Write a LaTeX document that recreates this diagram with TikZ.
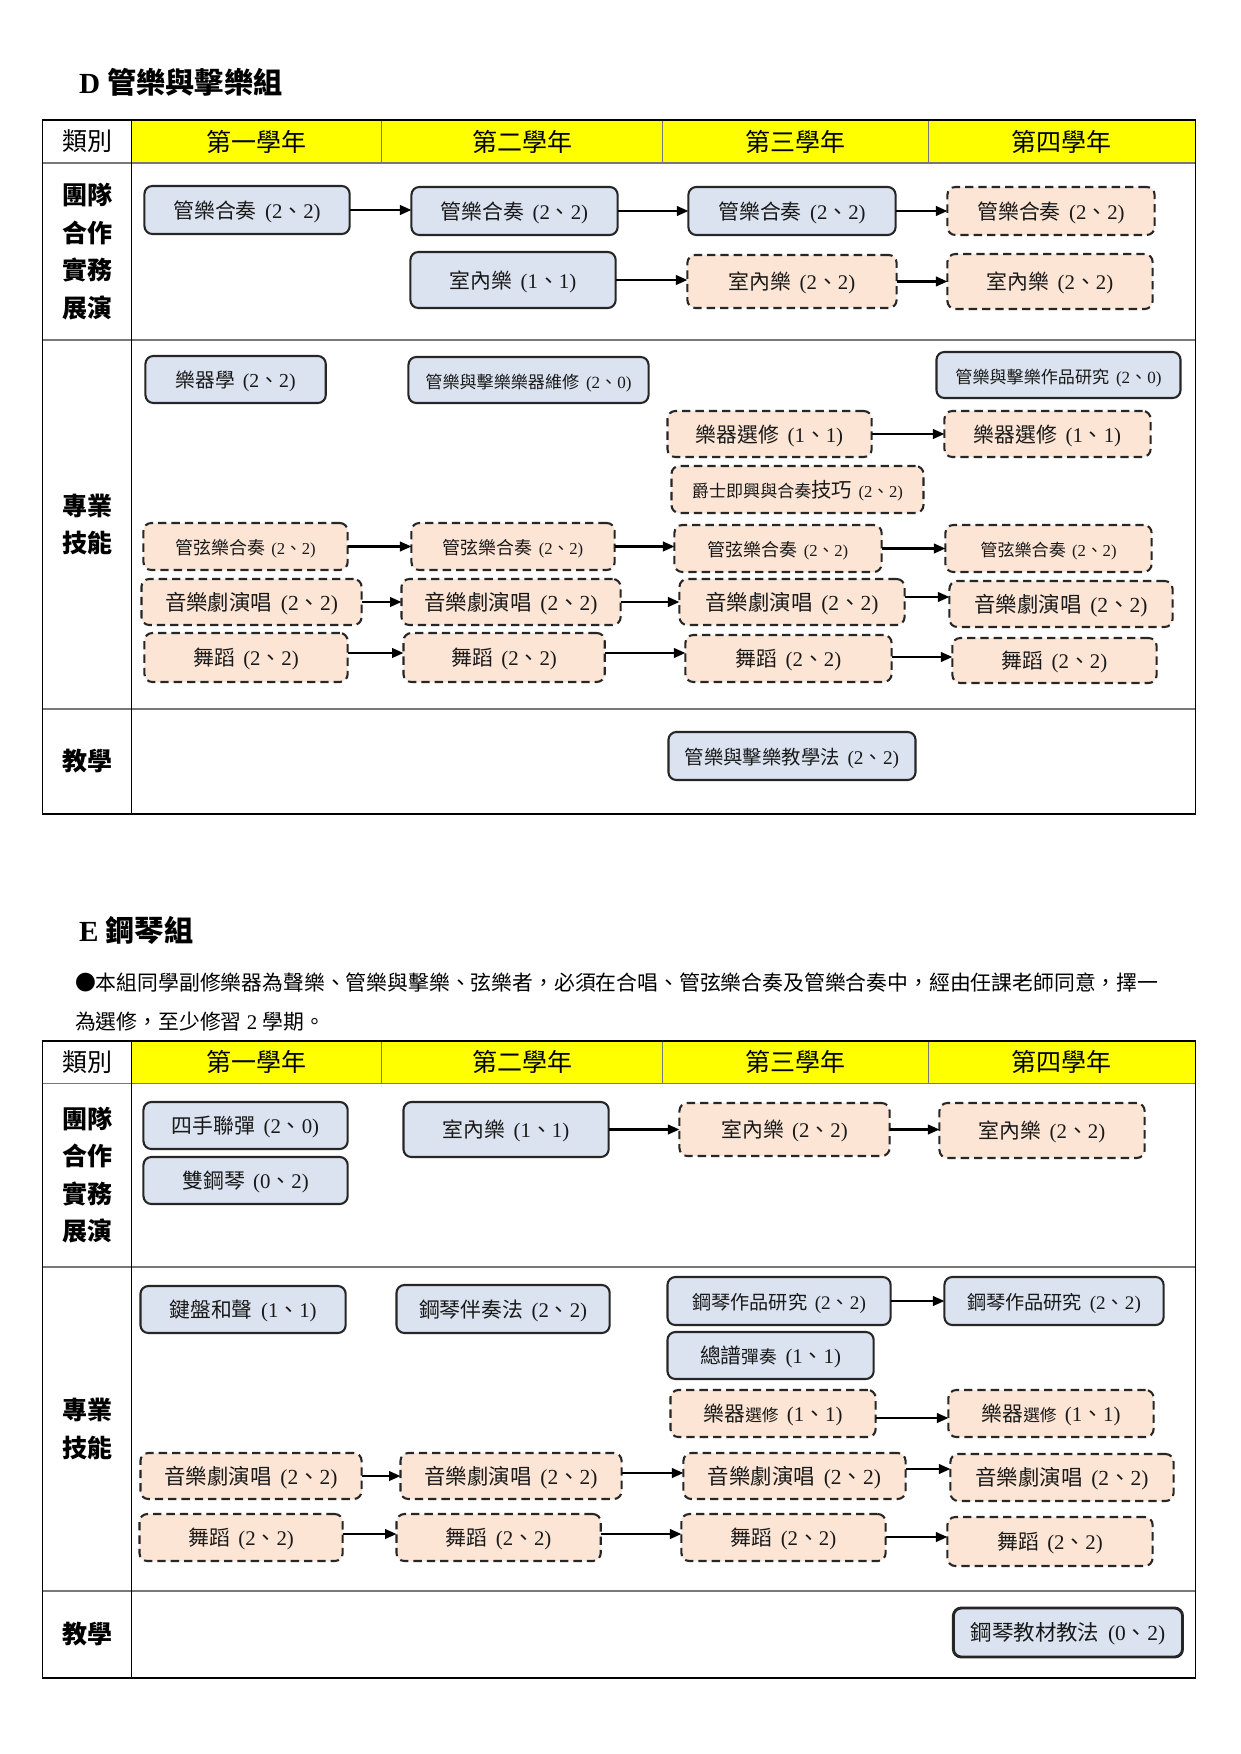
\documentclass[tikz,border=0pt]{standalone}
\usepackage{fontspec}
\setmainfont{Liberation Serif}
\newfontfamily\cjk{Noto Sans CJK TC}
\usetikzlibrary{arrows.meta}
\definecolor{bluefill}{RGB}{219,227,240}
\definecolor{peachfill}{RGB}{252,229,213}
\definecolor{hdryellow}{RGB}{255,255,0}
\definecolor{rulegray}{RGB}{120,120,120}
\newcommand\fs[1]{\fontsize{#1}{#1}\selectfont}
\newcommand\pp[2]{(#1{\cjk 、}#2)}
\newcommand\crs[3]{{\cjk #1}\hspace{0.4em}\pp{#2}{#3}}
\newcommand\bx[7]{\node[#2, minimum width={(#5-#3)*0.47824pt}, minimum height={(#6-#4)*0.48006pt}] (#1) at ({(#3+#5)/2},{(#4+#6)/2}) {#7};}
\tikzset{
  cbox/.style={rounded corners=3.8pt, line width=1pt, inner sep=0pt, outer sep=0pt, font=\fs{10}, text=black!90, text height=0.92em, text depth=0.12em},
  solidbox/.style={cbox, draw=black!85, fill=bluefill},
  dashbox/.style={cbox, draw=black!85, fill=peachfill, dash pattern=on 4pt off 2.4pt},
  arr/.style={-{Triangle[length=5.5pt,width=4.6pt]}, line width=1pt, black},
  hdrtext/.style={font=\cjk\fs{12}},
  rowlbl/.style={font=\cjk\bfseries\fontsize{12}{18}\selectfont, align=center},
  outerline/.style={draw=black, line width=0.6pt},
  innerline/.style={draw=rulegray, line width=0.8pt},
  titletext/.style={anchor=west, font=\bfseries\fs{14}},
  notetext/.style={anchor=west, font=\fs{10}, inner sep=0pt}
}
\begin{document}
\begin{tikzpicture}[x=0.47824pt, y=-0.48006pt]
\path[use as bounding box, fill=white] (0,0) rectangle (1244.72,1754);

% ================= D =================
\node[titletext] (dtitle) at (72,82) {D {\cjk 管樂與擊樂組}};

\fill[hdryellow] (132,120) rectangle (1200,163);
\draw[innerline] (43,163) -- (1200,163) (43,340) -- (1200,340) (43,709) -- (1200,709);
\draw[innerline] (383,120) -- (383,163) (665,120) -- (665,163) (932,120) -- (932,163);
\draw[outerline] (43,120) rectangle (1200,814);
\draw[outerline] (132,120) -- (132,814);

\node[hdrtext] (dhead0) at (87.5,141.5) {類別};
\node[hdrtext] (dhead1) at (257.5,141.5) {第一學年};
\node[hdrtext] (dhead2) at (524,141.5) {第二學年};
\node[hdrtext] (dhead3) at (798.5,141.5) {第三學年};
\node[hdrtext] (dhead4) at (1066,141.5) {第四學年};

\node[rowlbl] (drow1) at (87.5,251.5) {團隊\\合作\\實務\\展演};
\node[rowlbl] (drow2) at (87.5,524.5) {專業\\技能};
\node[rowlbl] (drow3) at (87.5,761.5) {教學};

\bx{da1}{solidbox}{145}{186}{351}{234}{\crs{管樂合奏}{2}{2}}
\bx{da2}{solidbox}{413}{187}{620}{235}{\crs{管樂合奏}{2}{2}}
\bx{da3}{solidbox}{691}{187}{899}{235}{\crs{管樂合奏}{2}{2}}
\bx{da4}{dashbox}{951}{187}{1159}{235}{\crs{管樂合奏}{2}{2}}
\bx{db2}{solidbox}{412}{252}{618}{308}{\crs{室內樂}{1}{1}}
\bx{db3}{dashbox}{690}{255}{900}{308}{\crs{室內樂}{2}{2}}
\bx{db4}{dashbox}{951}{254}{1157}{309}{\crs{室內樂}{2}{2}}

\bx{dc1}{solidbox,font=\fs{9.5}}{146}{356}{327}{403}{\crs{樂器學}{2}{2}}
\bx{dc2}{solidbox,font=\fs{8.2}}{410}{357}{651}{403}{\crs{管樂與擊樂樂器維修}{2}{0}}
\bx{dc4}{solidbox,font=\fs{8.2}}{940}{352}{1185}{398}{\crs{管樂與擊樂作品研究}{2}{0}}
\bx{dd3}{dashbox}{670}{411}{875}{457}{\crs{樂器選修}{1}{1}}
\bx{dd4}{dashbox}{948}{411}{1155}{457}{\crs{樂器選修}{1}{1}}
\bx{de3}{dashbox}{674}{466}{927}{513}{{\fs{8.2}\cjk 爵士即興與合奏}{\fs{9.8}\cjk 技巧}\hspace{0.3em}{\fs{8}\pp{2}{2}}}
\bx{df1}{dashbox}{144}{523}{349}{570}{{\fs{8.6}\cjk 管弦樂合奏}\hspace{0.3em}{\fs{8}\pp{2}{2}}}
\bx{df2}{dashbox}{413}{523}{617}{570}{{\fs{8.6}\cjk 管弦樂合奏}\hspace{0.3em}{\fs{8}\pp{2}{2}}}
\bx{df3}{dashbox}{677}{525}{885}{572}{{\fs{8.6}\cjk 管弦樂合奏}\hspace{0.3em}{\fs{8}\pp{2}{2}}}
\bx{df4}{dashbox}{949}{525}{1156}{572}{{\fs{8.2}\cjk 管弦樂合奏}\hspace{0.3em}{\fs{8}\pp{2}{2}}}
\bx{dg1}{dashbox,font=\fs{10.3}}{142}{579}{363}{625}{\crs{音樂劇演唱}{2}{2}}
\bx{dg2}{dashbox,font=\fs{10.3}}{403}{579}{623}{625}{\crs{音樂劇演唱}{2}{2}}
\bx{dg3}{dashbox,font=\fs{10.3}}{682}{579}{908}{625}{\crs{音樂劇演唱}{2}{2}}
\bx{dg4}{dashbox,font=\fs{10.3}}{953}{581}{1177}{627}{\crs{音樂劇演唱}{2}{2}}
\bx{dh1}{dashbox}{145}{633}{349}{682}{\crs{舞蹈}{2}{2}}
\bx{dh2}{dashbox}{405}{633}{607}{682}{\crs{舞蹈}{2}{2}}
\bx{dh3}{dashbox}{688}{635}{895}{682}{\crs{舞蹈}{2}{2}}
\bx{dh4}{dashbox}{956}{638}{1161}{683}{\crs{舞蹈}{2}{2}}
\bx{di3}{solidbox,font=\fs{9.3}}{671}{732}{919}{780}{\crs{管樂與擊樂教學法}{2}{2}}

\coordinate (y597) at (0,597);
\coordinate (y653) at (0,653);
\coordinate (y657) at (0,657);
\draw[arr] (da1.east) -- (da1.east -| da2.west);
\draw[arr] (da2.east) -- (da2.east -| da3.west);
\draw[arr] (da3.east) -- (da3.east -| da4.west);
\draw[arr] (db2.east) -- (db2.east -| db3.west);
\draw[arr] (db3.east) -- (db3.east -| db4.west);
\draw[arr] (dd3.east) -- (dd3.east -| dd4.west);
\draw[arr] (df1.east) -- (df1.east -| df2.west);
\draw[arr] (df2.east) -- (df2.east -| df3.west);
\draw[arr] (df3.east) -- (df3.east -| df4.west);
\draw[arr] (dg1.east) -- (dg1.east -| dg2.west);
\draw[arr] (dg2.east) -- (dg2.east -| dg3.west);
\draw[arr] (dg3.east |- y597) -- (dg4.west |- y597);
\draw[arr] (dh1.east |- y653) -- (dh2.west |- y653);
\draw[arr] (dh2.east |- y653) -- (dh3.west |- y653);
\draw[arr] (dh3.east |- y657) -- (dh4.west |- y657);

% ================= E =================
\node[titletext] (etitle) at (72,930) {E {\cjk 鋼琴組}};
\node[notetext] (enote1) at (75,983) {{\cjk ●本組同學副修樂器為聲樂、管樂與擊樂、弦樂者，必須在合唱、管弦樂合奏及管樂合奏中，經由任課老師同意，擇一}};
\node[notetext] (enote2) at (75,1022) {{\cjk 為選修，至少修習} 2 {\cjk 學期。}};

\fill[hdryellow] (132,1041) rectangle (1200,1083.5);
\draw[innerline] (43,1083.5) -- (1200,1083.5) (43,1267) -- (1200,1267) (43,1591) -- (1200,1591);
\draw[innerline] (383,1041) -- (383,1083.5) (665,1041) -- (665,1083.5) (932,1041) -- (932,1083.5);
\draw[outerline] (43,1041) rectangle (1200,1678);
\draw[outerline] (132,1041) -- (132,1678);

\node[hdrtext] (ehead0) at (87.5,1062) {類別};
\node[hdrtext] (ehead1) at (257.5,1062) {第一學年};
\node[hdrtext] (ehead2) at (524,1062) {第二學年};
\node[hdrtext] (ehead3) at (798.5,1062) {第三學年};
\node[hdrtext] (ehead4) at (1066,1062) {第四學年};

\node[rowlbl] (erow1) at (87.5,1175.3) {團隊\\合作\\實務\\展演};
\node[rowlbl] (erow2) at (87.5,1429) {專業\\技能};
\node[rowlbl] (erow3) at (87.5,1634.5) {教學};

\bx{ea1}{solidbox}{144}{1102}{349}{1149}{\crs{四手聯彈}{2}{0}}
\bx{eb1}{solidbox}{144}{1157}{349}{1204}{\crs{雙鋼琴}{0}{2}}
\bx{ea2}{solidbox}{405}{1102}{611}{1157}{\crs{室內樂}{1}{1}}
\bx{ea3}{dashbox}{682}{1103}{893}{1156}{\crs{室內樂}{2}{2}}
\bx{ea4}{dashbox}{943}{1103}{1149}{1158}{\crs{室內樂}{2}{2}}

\bx{ec1}{solidbox}{141}{1286}{347}{1333}{\crs{鍵盤和聲}{1}{1}}
\bx{ec2}{solidbox}{398}{1285}{612}{1333}{\crs{鋼琴伴奏法}{2}{2}}
\bx{ec3}{solidbox,font=\fs{9.2}}{670}{1277}{894}{1325}{\crs{鋼琴作品研究}{2}{2}}
\bx{ec4}{solidbox,font=\fs{9.2}}{948}{1277}{1168}{1325}{\crs{鋼琴作品研究}{2}{2}}
\bx{ed3}{solidbox}{670}{1332}{877}{1379}{{\cjk 總譜}{\fs{8.5}\cjk 彈奏}\hspace{0.4em}\pp{1}{1}}
\bx{ee3}{dashbox}{673}{1390}{879}{1437}{{\cjk 樂器}{\fs{8}\cjk 選修}\hspace{0.4em}\pp{1}{1}}
\bx{ee4}{dashbox}{952}{1390}{1158}{1437}{{\cjk 樂器}{\fs{8}\cjk 選修}\hspace{0.4em}\pp{1}{1}}
\bx{ef1}{dashbox,font=\fs{10.3}}{141}{1453}{363}{1499}{\crs{音樂劇演唱}{2}{2}}
\bx{ef2}{dashbox,font=\fs{10.3}}{402}{1453}{624}{1499}{\crs{音樂劇演唱}{2}{2}}
\bx{ef3}{dashbox,font=\fs{10.3}}{686}{1453}{909}{1499}{\crs{音樂劇演唱}{2}{2}}
\bx{ef4}{dashbox,font=\fs{10.3}}{954}{1454}{1178}{1501}{\crs{音樂劇演唱}{2}{2}}
\bx{eg1}{dashbox}{140}{1514}{344}{1561}{\crs{舞蹈}{2}{2}}
\bx{eg2}{dashbox}{398}{1514}{603}{1561}{\crs{舞蹈}{2}{2}}
\bx{eg3}{dashbox}{684}{1514}{889}{1561}{\crs{舞蹈}{2}{2}}
\bx{eg4}{dashbox}{951}{1517}{1157}{1566}{\crs{舞蹈}{2}{2}}
\bx{eh4}{solidbox,font=\fs{10.3},line width=1.4pt}{957}{1608}{1187}{1657}{\crs{鋼琴教材教法}{0}{2}}

\coordinate (y1418) at (0,1418);
\coordinate (y1473) at (0,1473);
\coordinate (y1469) at (0,1469);
\coordinate (y1534) at (0,1534);
\coordinate (y1537) at (0,1537);
\draw[arr] (ea2.east) -- (ea2.east -| ea3.west);
\draw[arr] (ea3.east) -- (ea3.east -| ea4.west);
\draw[arr] (ec3.east) -- (ec3.east -| ec4.west);
\draw[arr] (ee3.east |- y1418) -- (ee4.west |- y1418);
\draw[arr] (ef1.east) -- (ef1.east -| ef2.west);
\draw[arr] (ef2.east |- y1473) -- (ef3.west |- y1473);
\draw[arr] (ef3.east |- y1469) -- (ef4.west |- y1469);
\draw[arr] (eg1.east |- y1534) -- (eg2.west |- y1534);
\draw[arr] (eg2.east |- y1534) -- (eg3.west |- y1534);
\draw[arr] (eg3.east |- y1537) -- (eg4.west |- y1537);
\end{tikzpicture}
\end{document}
